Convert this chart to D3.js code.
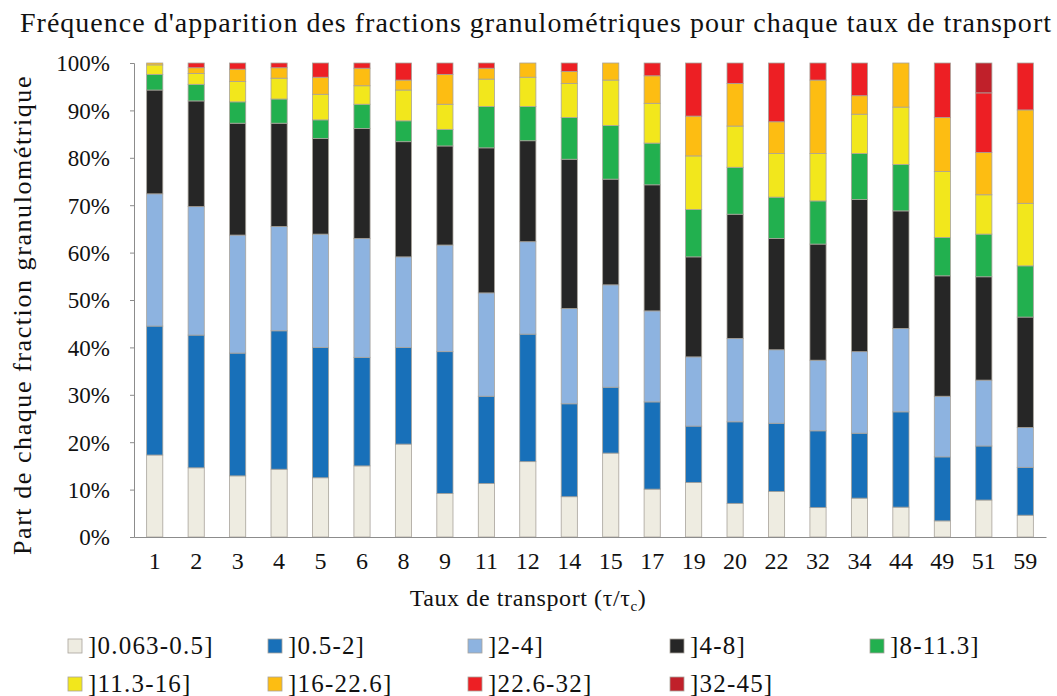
<!DOCTYPE html>
<html>
<head>
<meta charset="utf-8">
<script src="https://cdn.jsdelivr.net/npm/d3@7"></script>
<style>
  html, body { margin: 0; padding: 0; background: #fff; }
  svg { display: block; }
</style>
</head>
<body>
<svg id="chart" width="1057" height="696"></svg>
<script>
// ---------- data ----------
const categories = ["1","2","3","4","5","6","8","9","11","12","14","15","17","19","20","22","32","34","44","49","51","59"];
const seriesNames = ["]0.063-0.5]","]0.5-2]","]2-4]","]4-8]","]8-11.3]","]11.3-16]","]16-22.6]","]22.6-32]","]32-45]"];
const f_0063_05 = [17.3,14.6,12.9,14.3,12.5,15.0,19.6,9.2,11.3,15.9,8.5,17.7,10.1,11.5,7.1,9.6,6.2,8.2,6.3,3.4,7.8,4.6];
const f_05_2    = [27.2,28.0,25.9,29.2,27.5,22.9,20.4,29.9,18.4,26.9,19.6,13.9,18.4,11.9,17.2,14.4,16.2,13.7,20.1,13.5,11.4,10.1];
const f_2_4     = [27.9,27.1,24.9,22.0,23.9,25.1,19.1,22.5,21.8,19.5,20.1,21.6,19.2,14.6,17.6,15.5,14.9,17.2,17.6,12.8,13.9,8.4];
const f_4_8     = [21.9,22.3,23.6,21.8,20.2,23.2,24.3,20.9,30.6,21.3,31.5,22.3,26.6,21.1,26.2,23.5,24.5,32.1,24.8,25.4,21.8,23.3];
const f_8_113   = [3.3,3.5,4.5,5.1,3.9,5.1,4.4,3.5,8.7,7.2,8.8,11.3,8.8,10.0,9.9,8.7,9.1,9.7,9.8,8.1,9.0,10.8];
const f_113_16  = [2.0,2.3,4.3,4.4,5.4,3.9,6.5,5.3,5.8,6.2,7.2,9.6,8.4,11.3,8.7,9.2,10.0,8.3,12.1,13.9,8.3,13.2];
const f_16_226  = [0.4,1.2,2.6,2.2,3.6,3.7,2.1,6.3,2.3,3.0,2.5,3.6,5.8,8.4,9.0,6.7,15.5,3.9,9.3,11.4,8.9,19.7];
const f_226_32  = [0,1.0,1.3,1.0,3.0,1.1,3.6,2.4,1.1,0,1.8,0,2.7,11.2,4.3,12.4,3.6,6.9,0,11.5,12.6,9.9];
const f_32_45   = [0,0,0,0,0,0,0,0,0,0,0,0,0,0,0,0,0,0,0,0,6.3,0];
const yTicks = [0,10,20,30,40,50,60,70,80,90,100];

const seriesValues = [f_0063_05,f_05_2,f_2_4,f_4_8,f_8_113,f_113_16,f_16_226,f_226_32,f_32_45];
const colors = ["#eeece1","#1870b9","#8db3e0","#262626","#22b04f","#f2e71c","#fdbd12","#ed1f24","#c0202a"];

const FONT = '"Liberation Serif", "Times New Roman", serif';

// ---------- build table ----------
const table = categories.map((c, i) => {
  const row = { cat: c };
  seriesNames.forEach((s, k) => row[s] = seriesValues[k][i]);
  return row;
});

const svg = d3.select("#chart");
const margin = { left: 134, right: 1046, top: 63, bottom: 537 };

const x = d3.scaleBand().domain(categories).range([margin.left, margin.right]).paddingInner(0.61).paddingOuter(0.305);
const y = d3.scaleLinear().domain([0, 1]).range([margin.bottom, margin.top]);

const stack = d3.stack().keys(seriesNames).offset(d3.stackOffsetExpand);
const stacked = stack(table);

// spread text to a target width through letter spacing
function fitWidth(t, target) {
  const n = t.text().length;
  const w = t.node().getComputedTextLength();
  t.style("letter-spacing", ((target - w) / n) + "px");
}

// bars
svg.append("g").selectAll("g").data(stacked).join("g")
  .attr("fill", (d, i) => colors[i])
  .selectAll("rect").data(d => d.filter(p => p[1] - p[0] > 0)).join("rect")
  .attr("x", d => x(d.data.cat))
  .attr("width", x.bandwidth())
  .attr("y", d => y(d[1]))
  .attr("height", d => y(d[0]) - y(d[1]))
  .attr("stroke", "#a8a39b")
  .attr("stroke-width", 0.8);

// y axis
const yAxis = d3.axisLeft(y).tickValues(yTicks.map(v => v / 100)).tickFormat(v => Math.round(v * 100) + "%").tickSizeOuter(0).tickSize(4).tickPadding(20);
const gy = svg.append("g").attr("transform", `translate(${margin.left},0)`).call(yAxis);
gy.attr("font-family", null).attr("font-size", null);
gy.select(".domain").attr("stroke", "#8c8c8c");
gy.selectAll(".tick line").attr("stroke", "#8c8c8c");
gy.selectAll(".tick text").style("font-family", FONT).style("font-size", "23px").attr("fill", "#111").attr("dy", "0.34em");

// x axis
const xAxis = d3.axisBottom(x).tickSize(0).tickPadding(15).tickSizeOuter(0);
const gx = svg.append("g").attr("transform", `translate(0,${margin.bottom})`).call(xAxis);
gx.attr("font-family", null).attr("font-size", null);
gx.select(".domain").attr("stroke", "#8c8c8c");
gx.selectAll(".tick text").style("font-family", FONT).style("font-size", "24px").attr("fill", "#111").attr("dy", "0.71em");

// title
const title = svg.append("text").attr("x", 536).attr("y", 32).attr("text-anchor", "middle")
  .style("font-family", FONT).style("font-size", "28px").attr("fill", "#111")
  .text("Fréquence d'apparition des fractions granulométriques pour chaque taux de transport");
fitWidth(title, 1032);

// y title
const yt = svg.append("text").attr("transform", "translate(31,315) rotate(-90)").attr("text-anchor", "middle")
  .style("font-family", FONT).style("font-size", "26px").attr("fill", "#111")
  .text("Part de chaque fraction granulométrique");
fitWidth(yt, 480);

// x title
const xt = svg.append("text").attr("x", 528).attr("y", 606).attr("text-anchor", "middle")
  .style("font-family", FONT).style("font-size", "24px").attr("fill", "#111").style("letter-spacing", "0.6px");
xt.append("tspan").text("Taux de transport (τ/τ");
xt.append("tspan").text("c").style("font-size", "15px").attr("dy", 5);
xt.append("tspan").text(")").attr("dy", -5);

// legend
const legendCols = [68, 268, 468, 670, 870];
const legendRows = [646, 684];
const lg = svg.append("g");
seriesNames.forEach((s, i) => {
  const cx = legendCols[i % 5], cy = legendRows[Math.floor(i / 5)];
  lg.append("rect").attr("x", cx).attr("y", cy - 7).attr("width", 14).attr("height", 14)
    .attr("fill", colors[i]).attr("stroke", "#a8a39b").attr("stroke-width", 0.8);
  lg.append("text").attr("x", cx + 20).attr("y", cy + 8)
    .style("font-family", FONT).style("font-size", "25px").attr("fill", "#111")
    .style("letter-spacing", "1.2px").text(s);
});
</script>
</body>
</html>
